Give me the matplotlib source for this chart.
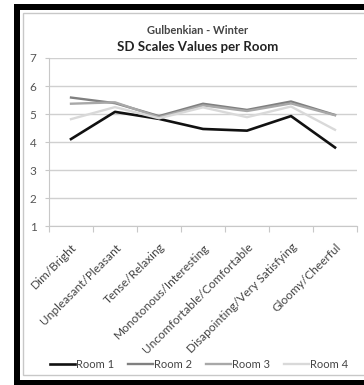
import matplotlib.pyplot as plt
from matplotlib.patches import Rectangle

plt.rcParams['font.family'] = ['Lato', 'DejaVu Sans']

escalas = ['Dim/Bright', 'Unpleasant/Pleasant', 'Tense/Relaxing',
           'Monotonous/Interesting', 'Uncomfortable/Comfortable',
           'Disapointing/Very Satisfying', 'Gloomy/Cheerful']
room1 = [4.11, 5.08, 4.83, 4.47, 4.41, 4.93, 3.81]
room2 = [5.59, 5.39, 4.93, 5.37, 5.15, 5.45, 4.97]
room3 = [5.37, 5.42, 4.89, 5.31, 5.11, 5.38, 4.96]
room4 = [4.82, 5.25, 4.85, 5.24, 4.89, 5.27, 4.44]
nombres = ['Room 1', 'Room 2', 'Room 3', 'Room 4']
colores = ['#111111', '#808080', '#a8a8a8', '#d9d9d9']
anchos = [1.9, 1.7, 1.7, 1.7]

fig = plt.figure(figsize=(3.64, 3.85), dpi=100)
W, H = 364, 385

# marco negro del grafico
fig.patches.append(Rectangle((14 / W, 0), 1, 1 - 4 / H, transform=fig.transFigure,
                             facecolor='black', edgecolor='none', zorder=-10))
fig.patches.append(Rectangle((20 / W, 5 / H), 1, 1 - 15 / H, transform=fig.transFigure,
                             facecolor='white', edgecolor='none', zorder=-9))
fig.patches.append(Rectangle((23 / W, 10 / H), 1, 1 - 23 / H, transform=fig.transFigure,
                             facecolor='white', edgecolor='#c8c8c8', linewidth=1.0, zorder=-8))

ax = fig.add_axes([49 / W, 1 - 226.3 / H, 308 / W, 168.3 / H])
ax.set_facecolor('none')

x = list(range(len(escalas)))
for serie, nombre, c, lw in zip([room1, room2, room3, room4], nombres, colores, anchos):
    ax.plot(x, serie, color=c, linewidth=lw, label=nombre)

ax.set_xlim(-0.5, len(escalas) - 0.5)
ax.set_ylim(1, 7)
ax.set_yticks(range(1, 8))
ax.yaxis.grid(True, color='#d0d0d0', linewidth=1.0)
ax.set_axisbelow(True)
for s in ['top', 'right']:
    ax.spines[s].set_visible(False)
ax.spines['left'].set_color('#c8c8c8')
ax.spines['bottom'].set_color('#c8c8c8')
ax.tick_params(axis='y', length=3, color='#c8c8c8', labelsize=8.5,
               labelcolor='#555555', pad=6)

ax.set_xticks([i - 0.5 for i in range(len(escalas) + 1)], minor=False)
ax.set_xticklabels([])
ax.tick_params(axis='x', which='major', length=4, color='#c8c8c8')
ax.set_xticks(x, minor=True)
ax.set_xticklabels(escalas, minor=True, rotation=45, ha='right', va='top',
                   rotation_mode='anchor', fontsize=8.6, color='#444444')
ax.tick_params(axis='x', which='minor', length=0, pad=11)

fig.text(198 / W, 1 - 30 / H, 'Gulbenkian - Winter', ha='center', va='center',
         fontsize=8, fontweight='bold', color='#444444')
fig.text(198 / W, 1 - 47 / H, 'SD Scales Values per Room', ha='center', va='center',
         fontsize=9.5, fontweight='bold', color='#222222')

fig.legend(loc='center', bbox_to_anchor=(199 / W, 1 - 364 / H), ncol=4, frameon=False,
           fontsize=8, handlelength=2.2, handletextpad=0.1, columnspacing=1.3,
           labelcolor='#444444')

fig.savefig('out.png', dpi=100)
